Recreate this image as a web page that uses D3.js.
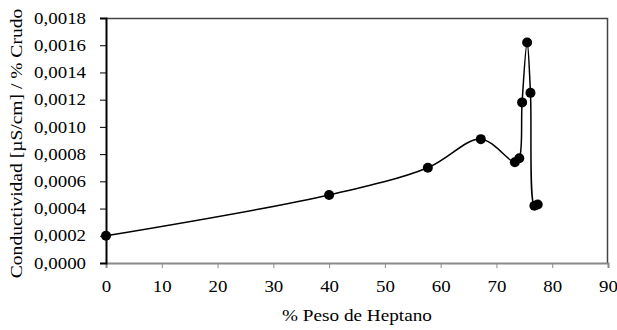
<!DOCTYPE html>
<html>
<head>
<meta charset="utf-8">
<script src="https://cdn.jsdelivr.net/npm/d3@7"></script>
<style>
  body { margin: 0; background: #fff; }
  svg text { font-family: "Liberation Serif", "Times New Roman", serif; fill: #000; }
</style>
</head>
<body>
<svg id="chart" width="617" height="330"></svg>
<script>
// % peso de heptano
const heptano = [0, 40, 57.7, 67.2, 73.3, 74.1, 74.6, 75.5, 76.1, 76.8, 77.4];
// conductividad / % crudo
const conductividad = [0.0002, 0.0005, 0.0007, 0.00091, 0.00074, 0.00077, 0.00118, 0.00162, 0.00125, 0.00042, 0.00043];
const xTicks = [0, 10, 20, 30, 40, 50, 60, 70, 80, 90];
const yTicks = [0, 0.0002, 0.0004, 0.0006, 0.0008, 0.001, 0.0012, 0.0014, 0.0016, 0.0018];

const data = heptano.map((h, i) => ({ x: h, y: conductividad[i] }));

const svg = d3.select("#chart");
const margin = { top: 18, right: 9, bottom: 67, left: 106 };
const width = 617 - margin.left - margin.right;
const height = 330 - margin.top - margin.bottom;

const x = d3.scaleLinear().domain([0, 90]).range([0, width]);
const y = d3.scaleLinear().domain([0, 0.0018]).range([height, 0]);

// the original text is a bit wider than Liberation Serif, stretch glyphs
function stretch(sel, k) {
  sel.each(function () {
    const len = this.getComputedTextLength();
    d3.select(this).attr("textLength", len * k).attr("lengthAdjust", "spacingAndGlyphs");
  });
}

const g = svg.append("g").attr("transform", `translate(${margin.left},${margin.top})`);

// plot frame (top + right)
g.append("path")
  .attr("d", `M0,0.5H${width - 0.5}V${height}`)
  .attr("fill", "none")
  .attr("stroke", "#444")
  .attr("stroke-width", 1.5);

const fmt = d => d3.format(".4f")(d).replace(".", ",");

const xAxis = g.append("g")
  .attr("transform", `translate(0,${height})`)
  .call(d3.axisBottom(x).tickValues(xTicks).tickSize(5).tickPadding(13).tickFormat(d3.format("d")));
xAxis.select(".domain").attr("stroke", "#888").attr("stroke-width", 2);
xAxis.selectAll(".tick line").attr("stroke", "#888");
xAxis.selectAll("text").style("font-size", "16px").call(stretch, 1.18);

const yAxis = g.append("g")
  .call(d3.axisLeft(y).tickValues(yTicks).tickSize(6).tickPadding(14).tickFormat(fmt));
yAxis.select(".domain").attr("stroke", "#000").attr("stroke-width", 2);
yAxis.selectAll(".tick line").attr("stroke", "#000");
yAxis.selectAll("text").style("font-size", "16px").call(stretch, 1.18);

// smoothed line
const line = d3.line()
  .x(d => x(d.x))
  .y(d => y(d.y))
  .curve(d3.curveCatmullRom.alpha(0.5));

g.append("path")
  .datum(data)
  .attr("fill", "none")
  .attr("stroke", "#000")
  .attr("stroke-width", 1.5)
  .attr("d", line);

g.selectAll(".dot")
  .data(data)
  .enter()
  .append("circle")
  .attr("class", "dot")
  .attr("cx", d => x(d.x))
  .attr("cy", d => y(d.y))
  .attr("r", 5)
  .attr("fill", "#000");

// axis titles
svg.append("text")
  .attr("x", margin.left + width / 2)
  .attr("y", 321)
  .attr("text-anchor", "middle")
  .style("font-size", "16px")
  .text("% Peso de Heptano")
  .call(stretch, 1.2);

svg.append("text")
  .attr("transform", `translate(22,${margin.top + height / 2 + 3}) rotate(-90)`)
  .attr("text-anchor", "middle")
  .style("font-size", "16px")
  .text("Conductividad [µS/cm] / % Crudo")
  .call(stretch, 1.22);
</script>
</body>
</html>
